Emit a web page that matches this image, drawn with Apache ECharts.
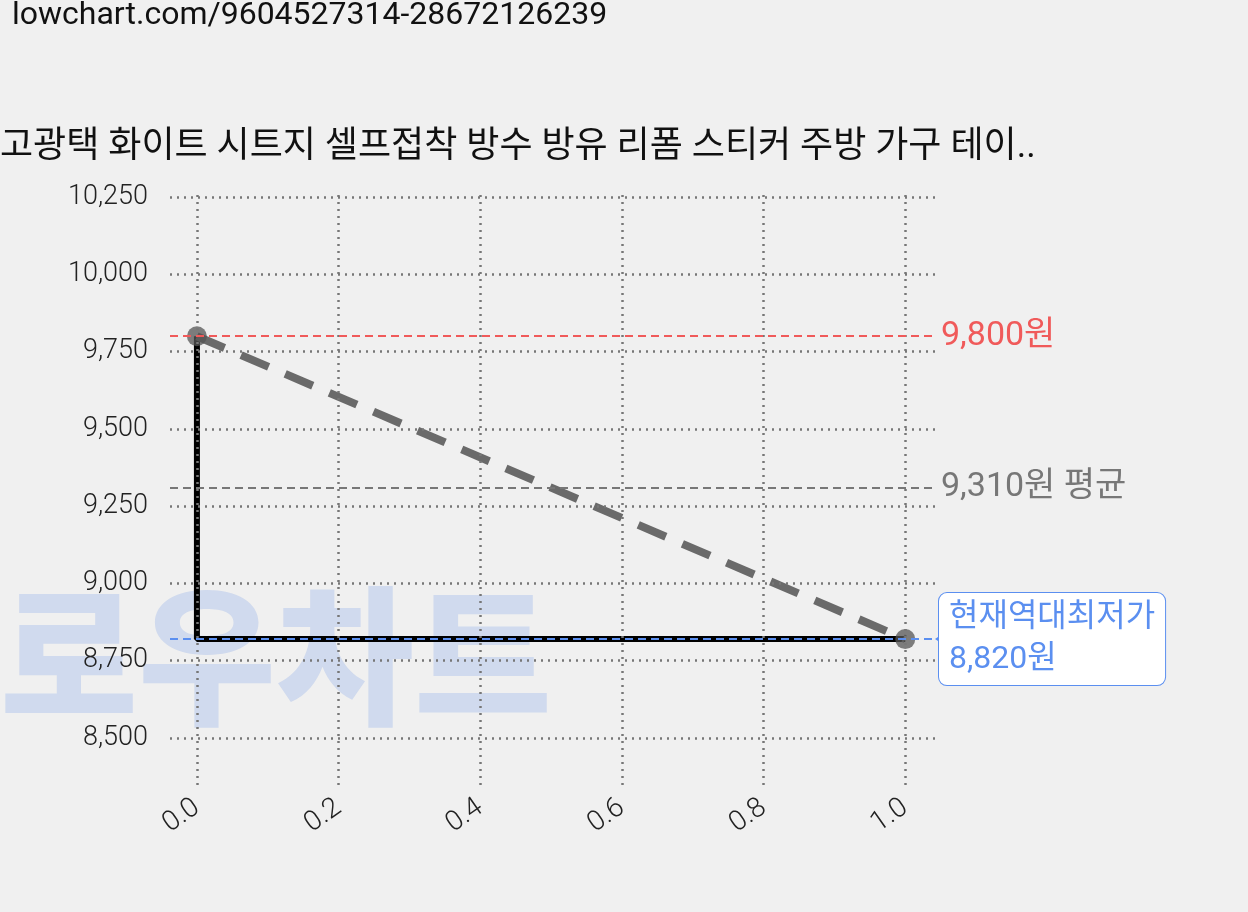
<!DOCTYPE html>
<html><head><meta charset="utf-8">
<script src="https://cdn.jsdelivr.net/npm/echarts@6/dist/echarts.min.js"></script>
<style>html,body{margin:0;background:#f0f0f0}#c{width:1248px;height:912px}</style>
</head><body><div id="c"></div>
<script>
const xTicks=[0,0.2,0.4,0.6,0.8,1.0];
const yTicks=[8500,8750,9000,9250,9500,9750,10000,10250];
const stepX=[0,0,1];
const stepY=[9800,8820,8820];
const trendX=[0,1];
const trendY=[9800,8820];
const maxPrice=9800, avgPrice=9310, minPrice=8820;
const F="Roboto, 'Noto Sans CJK KR', sans-serif";
const chart=echarts.init(document.getElementById('c'));
const grid=[];
xTicks.forEach(v=>grid.push({xAxis:v}));
yTicks.forEach(v=>grid.push({yAxis:v}));
const blue={color:'#5b8ff0',type:[8,5],width:2};
chart.setOption({
 backgroundColor:'#f0f0f0',animation:false,
 graphic:[
  {type:'text',left:12,top:0,style:{text:'lowchart.com/9604527314-28672126239',font:'32px '+F,fill:'#111'}},
  {type:'text',left:0,top:130,style:{text:'고광택 화이트 시트지 셀프접착 방수 방유 리폼 스티커 주방 가구 테이..',font:'36px '+F,fill:'#111'}},
  {type:'text',left:0,top:600,z:-1,style:{text:'로우차트',font:'900 150px '+F,fill:'rgba(110,150,230,0.25)'}}
 ],
 grid:{left:170,right:313,top:190,bottom:127},
 xAxis:{type:'value',min:-0.038,max:1.042,axisLine:{show:false},axisTick:{show:false},splitLine:{show:false},
  axisLabel:{customValues:xTicks,rotate:35,margin:20,fontSize:28,fontWeight:300,fontFamily:F,color:'#222',formatter:v=>v.toFixed(1)}},
 yAxis:{type:'value',min:8348,max:10273,axisLine:{show:false},axisTick:{show:false},splitLine:{show:false},
  axisLabel:{customValues:yTicks,fontSize:27,fontWeight:300,fontFamily:F,color:'#222',margin:22,formatter:v=>v.toLocaleString('en-US')}},
 series:[
  {type:'line',data:[],markLine:{silent:true,symbol:'none',label:{show:false},lineStyle:{color:'#777',type:[2,5],width:2.5},data:grid}},
  {type:'line',data:stepX.map((x,i)=>[x,stepY[i]]),symbol:'none',lineStyle:{color:'#000',width:6},z:3},
  {type:'line',data:trendX.map((x,i)=>[x,trendY[i]]),symbol:'circle',symbolSize:20,itemStyle:{color:'#555',opacity:0.75},
   lineStyle:{color:'#6a6a6a',width:8,type:[30,18]},z:4,
   markLine:{silent:true,symbol:'none',data:[
    {yAxis:maxPrice,lineStyle:{color:'#f05a5a',type:[8,5],width:2},label:{formatter:'9,800원',color:'#f05a5a',fontSize:34,fontFamily:F,position:'end',distance:6}},
    {yAxis:avgPrice,lineStyle:{color:'#777',type:[8,5],width:2},label:{formatter:'9,310원 평균',color:'#777',fontSize:34,fontFamily:F,position:'end',distance:6}},
    [{coord:[-0.038,minPrice],symbol:'none',lineStyle:blue},{coord:[1.042,minPrice],symbol:'arrow',symbolSize:12,symbolRotate:90,
      label:{show:true,position:'end',formatter:'현재역대최저가\n8,820원',color:'#5b8ff0',fontSize:32,fontFamily:F,lineHeight:42,
       backgroundColor:'#fff',borderColor:'#5b8ff0',borderWidth:1,borderRadius:8,padding:[4,10,4,10],distance:4}}]
   ],lineStyle:blue}}
 ]
});
</script></body></html>
